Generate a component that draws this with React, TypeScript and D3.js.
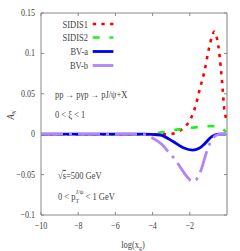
import React from "react";
import * as d3 from "d3";

const xTicks = [-10, -8, -6, -4, -2];
const xTickLabels = ["−10", "−8", "−6", "−4", "−2"];
const yTicks = [0.15, 0.1, 0.05, 0, -0.05, -0.1];
const yTickLabels = ["0.15", "0.1", "0.05", "0", "−0.05", "−0.1"];

const sidis1: [number, number][] = [
  [-10, 0], [-4, 0], [-3.2, 0], [-2.75, 0.0015], [-2.35, 0.0077], [-1.95, 0.019],
  [-1.68, 0.036], [-1.45, 0.057], [-1.22, 0.077], [-0.98, 0.105], [-0.79, 0.122],
  [-0.68, 0.127], [-0.58, 0.122], [-0.47, 0.11], [-0.34, 0.084], [-0.23, 0.055],
  [-0.16, 0.034], [-0.05, 0.02],
];
const sidis2: [number, number][] = [
  [-10, 0], [-4.2, 0], [-3.5, 0.0025], [-2.6, 0.006], [-1.7, 0.0085], [-0.8, 0.01],
  [-0.4, 0.009], [-0.15, 0.005], [-0.05, 0.003],
];
const bva: [number, number][] = [
  [-10, 0], [-4.5, 0], [-3.6, -0.001], [-2.9, -0.009], [-2.35, -0.0167], [-1.85, -0.0196],
  [-1.5, -0.0175], [-1.27, -0.0134], [-0.82, -0.003], [-0.47, 0], [-0.05, 0],
];
const bvb: [number, number][] = [
  [-10, 0], [-4.6, 0], [-3.96, -0.0053], [-3.51, -0.0125], [-3.16, -0.0216], [-2.8, -0.031],
  [-2.35, -0.0464], [-2.08, -0.0546], [-1.85, -0.0588], [-1.54, -0.0526], [-1.36, -0.042],
  [-1.18, -0.028], [-1.0, -0.0155], [-0.82, -0.0074], [-0.55, -0.001], [-0.3, 0], [-0.05, 0],
];

const seriesNames = ["SIDIS1", "SIDIS2", "BV-a", "BV-b"];
const seriesData = [sidis1, sidis2, bva, bvb];
const seriesColors = ["#ff0000", "#22ee22", "#0000ee", "#b484f4"];
const seriesDash = ["3.3,5.4", "7,9.7", "none", "22,6,3,6"];
const seriesWidth = [2.6, 2.6, 2.8, 2.8];

const FONT = "Liberation Serif";
const SX = 0.85;

function T(props: { x: number; y: number; anchor?: string; size?: number; children: React.ReactNode; italic?: boolean; rotate?: number }) {
  const { x, y, anchor = "start", size = 10, children, italic, rotate } = props;
  return (
    <text
      transform={`translate(${x},${y})${rotate ? ` rotate(${rotate})` : ""} scale(${SX},1)`}
      textAnchor={anchor}
      style={{ fontFamily: FONT, fontSize: size, fontStyle: italic ? "italic" : "normal" }}
      fill="#444"
    >
      {children}
    </text>
  );
}

export default function App() {
  const L = 41, R = 227, Tp = 13, B = 215;
  const x = d3.scaleLinear().domain([-10, 0]).range([L, R]);
  const y = d3.scaleLinear().domain([-0.1, 0.15]).range([B, Tp]);
  const line = d3.line<[number, number]>().x((d) => x(d[0])).y((d) => y(d[1])).curve(d3.curveMonotoneX);
  const axisColor = "#888";
  const legendRows = [24, 37.5, 51.5, 65.5];

  return (
    <svg width={240} height={251} style={{ position: "absolute", left: 0, top: 0 }}>
      <rect x={0} y={0} width={240} height={251} fill="#fff" />
      <defs>
        <clipPath id="plot">
          <rect x={L} y={Tp} width={R - L} height={B - Tp} />
        </clipPath>
      </defs>
      <line x1={L} y1={Tp} x2={R} y2={Tp} stroke={axisColor} strokeWidth={1} />
      <line x1={L} y1={B} x2={R} y2={B} stroke={axisColor} strokeWidth={1} />
      <line x1={L} y1={Tp} x2={L} y2={B} stroke={axisColor} strokeWidth={1} />
      <line x1={R} y1={Tp} x2={R} y2={B} stroke="#b8b8b8" strokeWidth={1.8} />
      {xTicks.map((t, i) => (
        <g key={"xt" + i}>
          <line x1={x(t)} y1={B} x2={x(t)} y2={B - 3} stroke={axisColor} />
          <line x1={x(t)} y1={Tp} x2={x(t)} y2={Tp + 3} stroke={axisColor} />
          <T x={x(t)} y={229} anchor="middle" size={9.5}>{xTickLabels[i]}</T>
        </g>
      ))}
      {yTicks.map((t, i) => (
        <g key={"yt" + i}>
          <line x1={L} y1={y(t)} x2={L + 3} y2={y(t)} stroke={axisColor} />
          <line x1={R} y1={y(t)} x2={R - 3} y2={y(t)} stroke={axisColor} />
          <T x={35} y={y(t) + 3} anchor="end" size={9.5}>{yTickLabels[i]}</T>
        </g>
      ))}
      <g clipPath="url(#plot)">
        {seriesData.map((d, i) => (
          <path
            key={"s" + i}
            d={line(d) || ""}
            fill="none"
            stroke={seriesColors[i]}
            strokeWidth={seriesWidth[i]}
            strokeDasharray={seriesDash[i]}
          />
        ))}
      </g>
      {seriesNames.map((n, i) => (
        <g key={"lg" + i}>
          <T x={88} y={legendRows[i] + 3.5} anchor="end">{n}</T>
          <line
            x1={92.7}
            x2={113.4}
            y1={legendRows[i]}
            y2={legendRows[i]}
            stroke={seriesColors[i]}
            strokeWidth={seriesWidth[i]}
            strokeDasharray={seriesDash[i]}
          />
        </g>
      ))}
      <T x={55} y={97.5}>pp → pγp → pJ/ψ+X</T>
      <T x={55} y={117.5}>0 &lt; ξ &lt; 1</T>
      <T x={58} y={178.5}>
        √<tspan textDecoration="overline">s</tspan>=500 GeV
      </T>
      <T x={58} y={200}>
        0 &lt; p<tspan fontSize={7} dy={3}>T</tspan>
        <tspan fontSize={7} dy={-9} dx={-4}>J/ψ</tspan>
        <tspan dy={6}> &lt; 1 GeV</tspan>
      </T>
      <T x={14} y={115} anchor="middle" rotate={-90} italic>
        A<tspan fontSize={7} dy={2}>N</tspan>
      </T>
      <T x={133} y={247.5} anchor="middle">
        log(x<tspan fontSize={7} dy={2}>g</tspan><tspan dy={-2}>)</tspan>
      </T>
    </svg>
  );
}
